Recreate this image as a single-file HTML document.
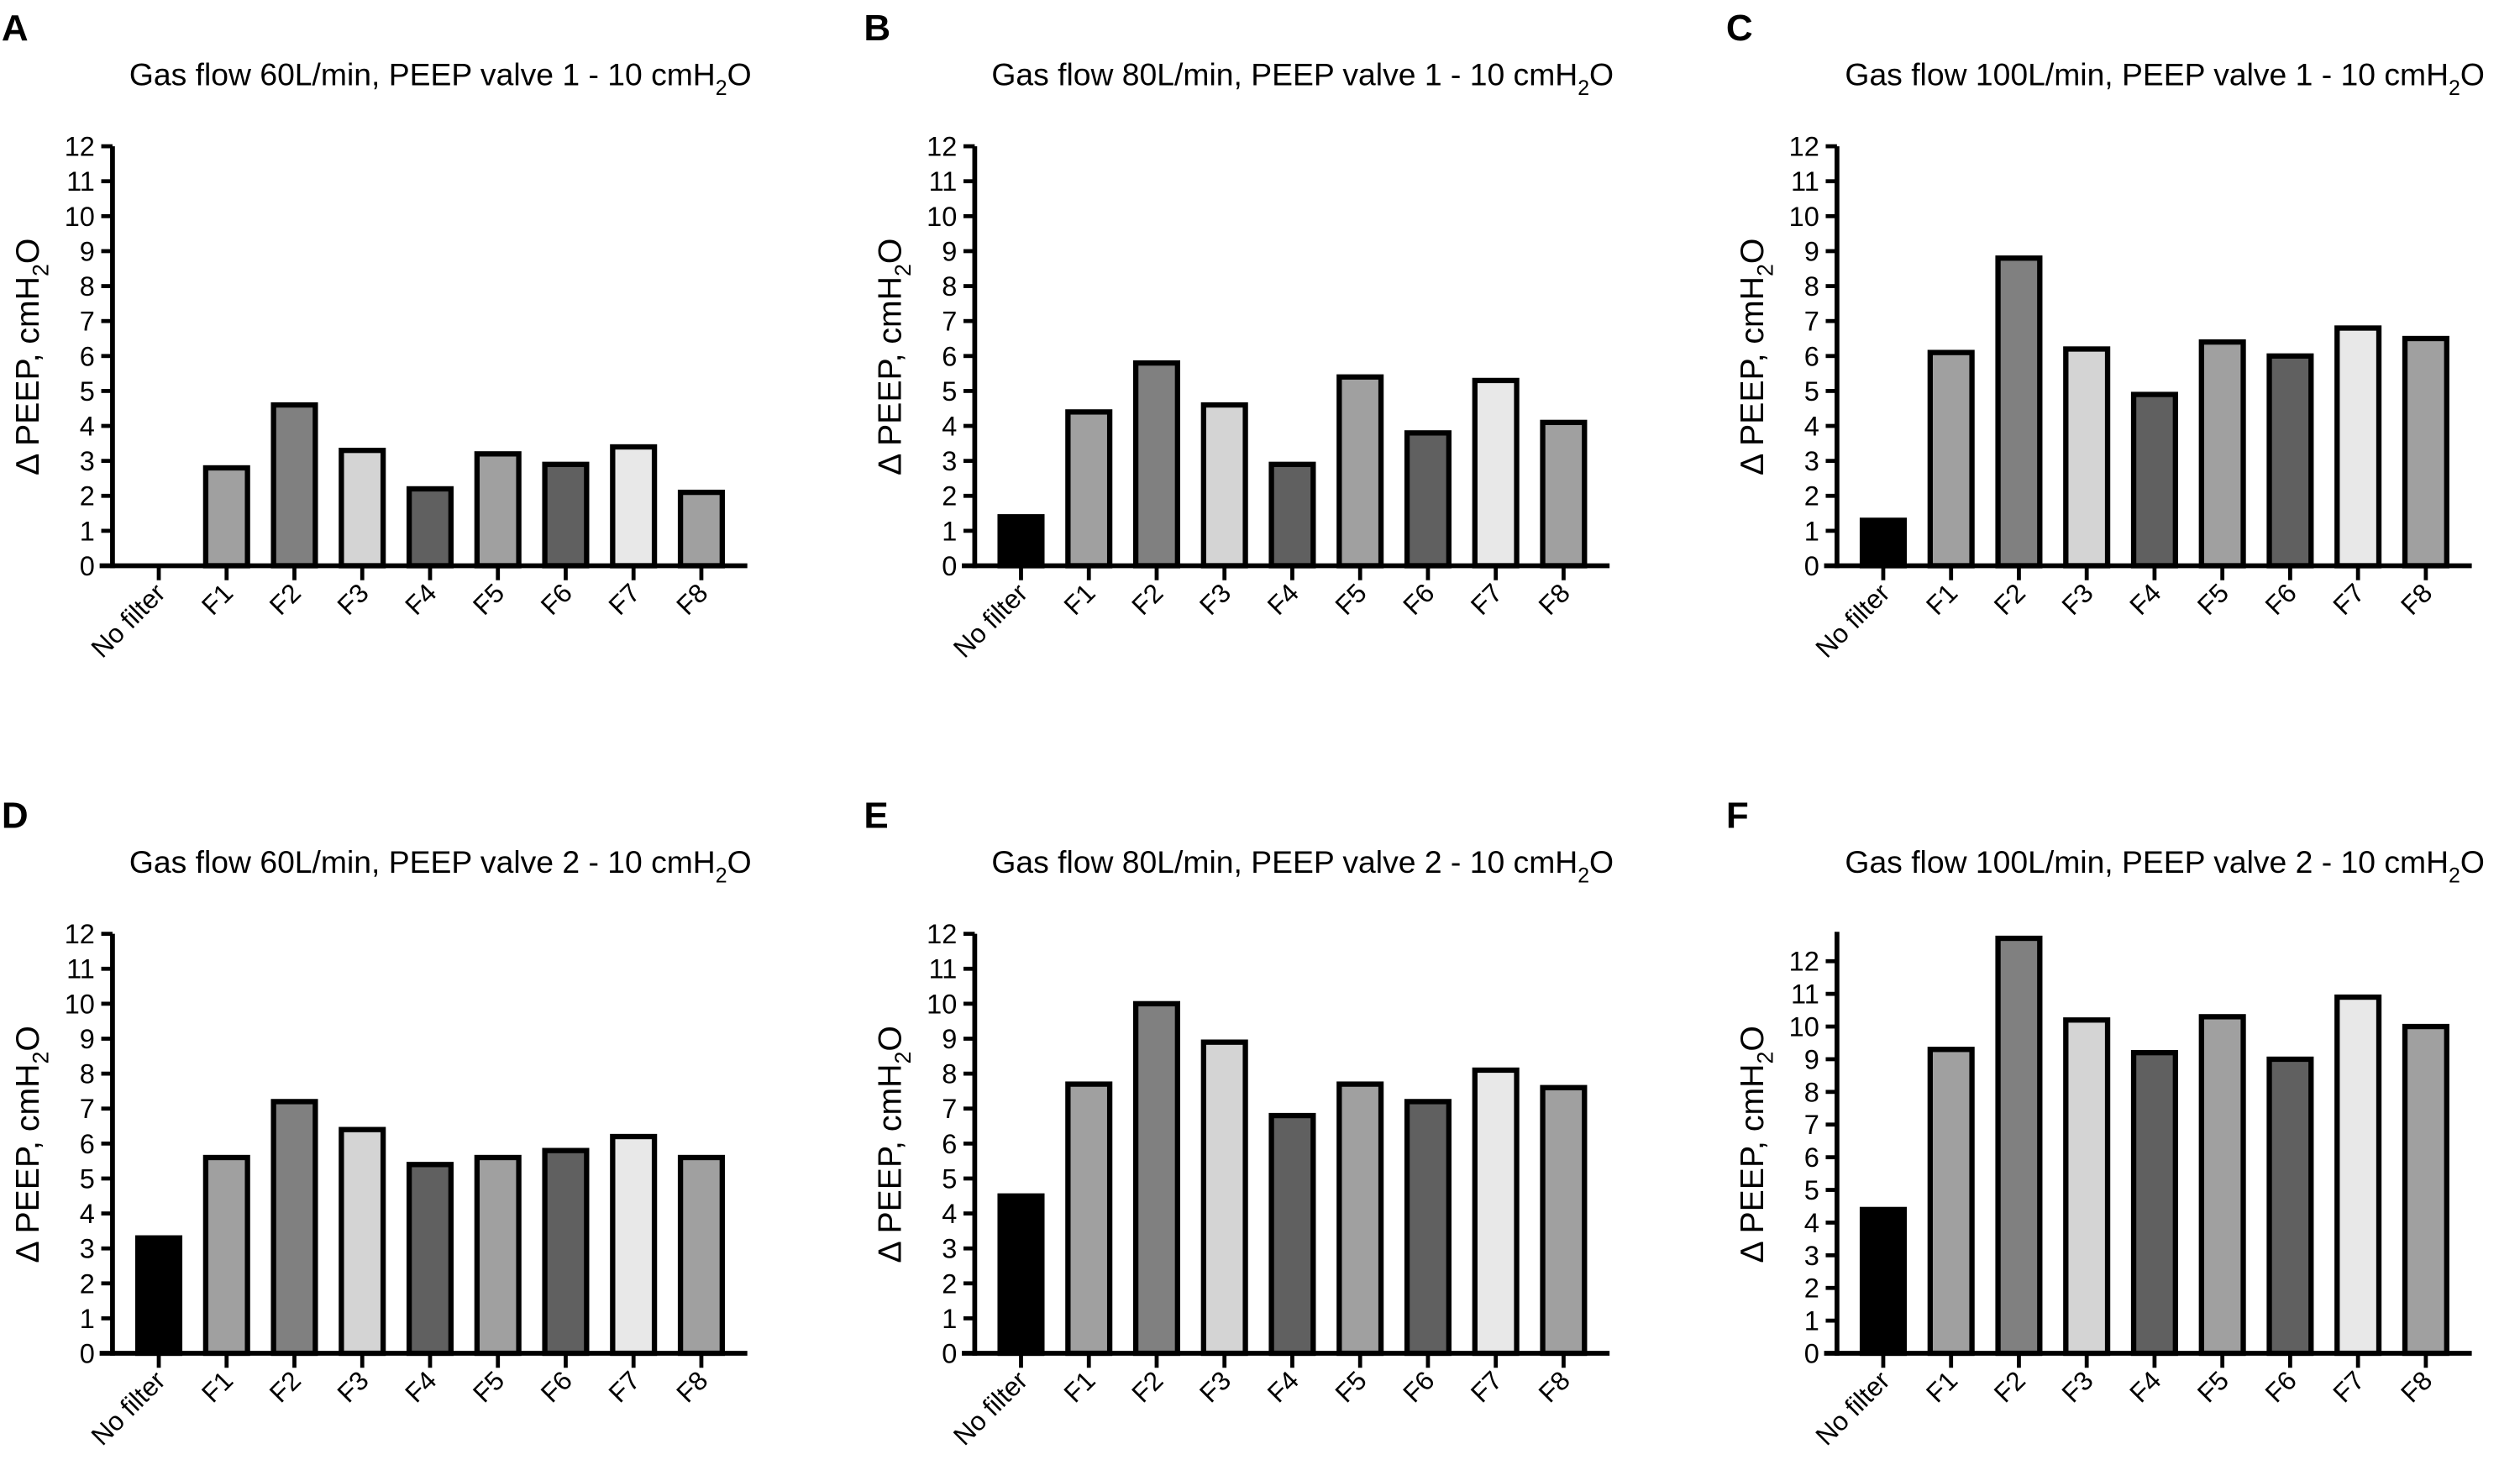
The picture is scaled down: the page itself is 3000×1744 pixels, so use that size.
<!DOCTYPE html>
<html><head><meta charset="utf-8"><style>
html,body{margin:0;padding:0;background:#fff;}
svg{display:block;}
text{font-family:"Liberation Sans",Arial,sans-serif;fill:#000;}
</style></head><body>
<svg id="fig" width="3000" height="1744" viewBox="0 0 1568 911.5" preserveAspectRatio="none" xmlns="http://www.w3.org/2000/svg"></svg>
<script>
const categories = ["No filter","F1","F2","F3","F4","F5","F6","F7","F8"];
const valuesA = [0, 2.8, 4.6, 3.3, 2.2, 3.2, 2.9, 3.4, 2.1];
const valuesB = [1.4, 4.4, 5.8, 4.6, 2.9, 5.4, 3.8, 5.3, 4.1];
const valuesC = [1.3, 6.1, 8.8, 6.2, 4.9, 6.4, 6.0, 6.8, 6.5];
const valuesD = [3.3, 5.6, 7.2, 6.4, 5.4, 5.6, 5.8, 6.2, 5.6];
const valuesE = [4.5, 7.7, 10.0, 8.9, 6.8, 7.7, 7.2, 8.1, 7.6];
const valuesF = [4.4, 9.3, 12.7, 10.2, 9.2, 10.3, 9.0, 10.9, 10.0];
const yTicks = [0,1,2,3,4,5,6,7,8,9,10,11,12];
const panelLetters = ["A","B","C","D","E","F"];
const flows = ["60","80","100","60","80","100"];
const valves = ["1","1","1","2","2","2"];
const fills = ["#000","#a0a0a0","#808080","#d4d4d4","#606060","#a0a0a0","#606060","#e8e8e8","#a0a0a0"];
const panelValues = [valuesA,valuesB,valuesC,valuesD,valuesE,valuesF];
const yMaxes = [12,12,12,12,12,12.9];

const NS="http://www.w3.org/2000/svg";
const svg=document.getElementById('fig');
function mk(tag,attrs,parent){const e=document.createElementNS(NS,tag);for(const k in attrs)e.setAttribute(k,attrs[k]);(parent||svg).appendChild(e);return e;}

panelValues.forEach((vals,p)=>{
  const col=p%3,row=Math.floor(p/3);
  const ox=col*536.5, oy=row*490;
  const g=mk('g',{});
  
  
  const axX=70+ox, y0=352+oy;
  const yTop=91+oy;
  const unit = p===5 ? 20.33 : (y0-yTop)/12;
  const yScale=v=>y0-v*unit;
  const xStep=42.2, x0=axX+28.8;
  const xScale=i=>x0+i*xStep;
  const axEnd=axX+395;
  const L=mk('text',{x:ox+1,y:oy+25,'font-size':23,'font-weight':'bold'},g);L.textContent=panelLetters[p];
  
  
  const t=mk('text',{x:ox+274,y:oy+53,'font-size':19.5,'text-anchor':'middle'},g);
  
  
  t.appendChild(document.createTextNode('Gas flow '+flows[p]+'L/min, PEEP valve '+valves[p]+' - 10 cmH'));
  const sub=mk('tspan',{'font-size':13,dy:6},t);sub.textContent='2';
  const o=mk('tspan',{dy:-6},t);o.textContent='O';
  vals.forEach((v,i)=>{
    if(v<=0)return;
    const cx=xScale(i);
    const r=mk('rect',{x:cx-13,y:yScale(v),width:26,height:y0-yScale(v),fill:fills[i],stroke:'#000','stroke-width':3.3},g);
    
    
  });
  const ya=mk('line',{x1:axX,y1:yScale(yMaxes[p]),x2:axX,y2:y0+1.5,stroke:'#000','stroke-width':3},g);
  
  
  yTicks.forEach(v=>{
    const y=yScale(v);
    mk('line',{x1:axX-7,y1:y,x2:axX,y2:y,stroke:'#000','stroke-width':2.5},g);
    const tl=mk('text',{x:axX-11,y:y+6,'font-size':17,'text-anchor':'end'},g);tl.textContent=v;
    
    
  });
  const xa=mk('line',{x1:axX-8,y1:y0,x2:axEnd,y2:y0,stroke:'#000','stroke-width':3},g);
  
  
  categories.forEach((c,i)=>{
    const x=xScale(i);
    mk('line',{x1:x,y1:y0,x2:x,y2:y0+9,stroke:'#000','stroke-width':2.5},g);
    const tx=x+5, ty=y0+18;
    const xl=mk('text',{x:tx,y:ty,'font-size':16.5,'text-anchor':'end',transform:`rotate(-45 ${tx} ${ty})`},g);
    xl.textContent=c;
    
    
  });
  const yt=mk('text',{x:0,y:0,'font-size':20.5,'text-anchor':'middle',transform:`translate(${ox+24} ${oy+222}) rotate(-90)`},g);
  
  
  yt.appendChild(document.createTextNode('Δ PEEP, cmH'));
  const s2=mk('tspan',{'font-size':14,dy:6},yt);s2.textContent='2';
  const o2=mk('tspan',{dy:-6},yt);o2.textContent='O';
});
</script>
</body></html>
